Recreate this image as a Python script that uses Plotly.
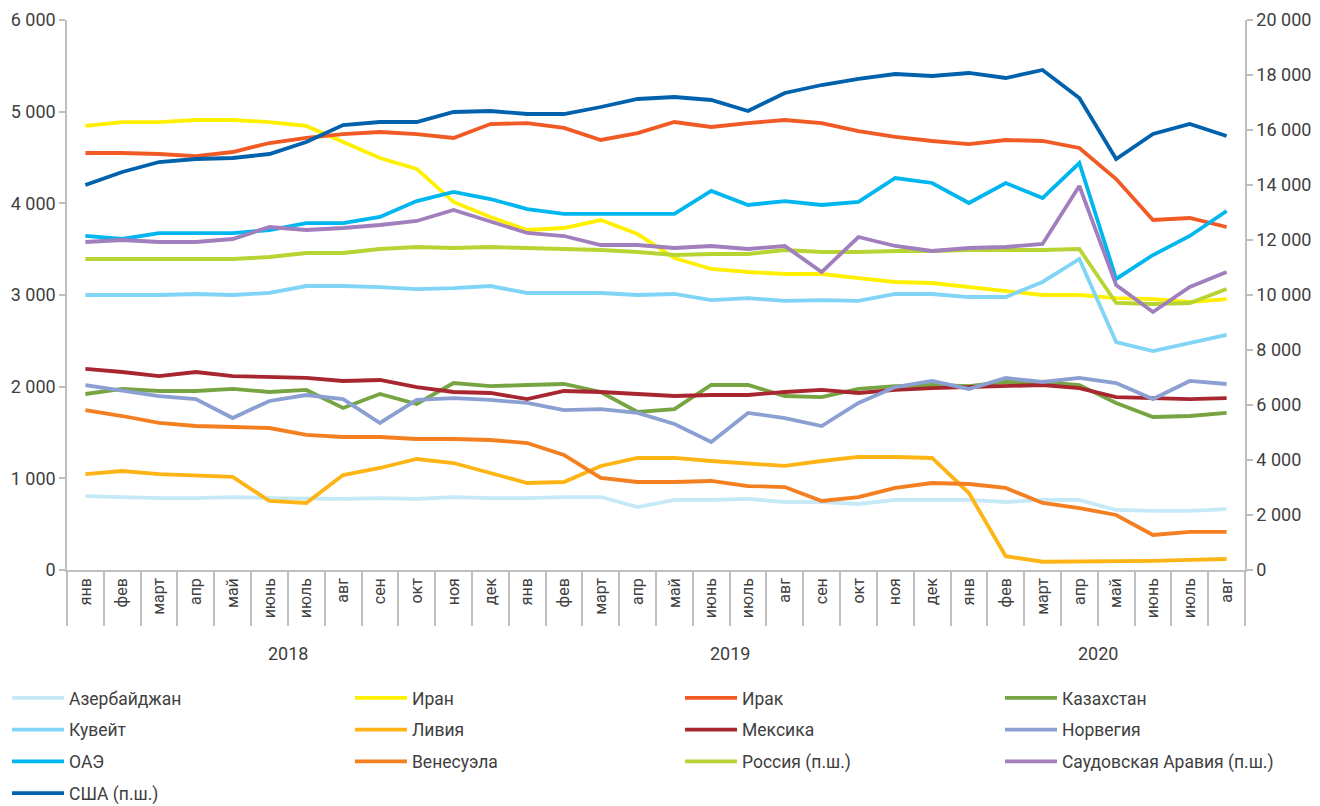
import plotly.graph_objects as go

month_labels = ["янв", "фев", "март", "апр", "май", "июнь", "июль", "авг", "сен", "окт", "ноя", "дек",
                "янв", "фев", "март", "апр", "май", "июнь", "июль", "авг", "сен", "окт", "ноя", "дек",
                "янв", "фев", "март", "апр", "май", "июнь", "июль", "авг"]
years = ["2018", "2019", "2020"]
year_month_counts = [12, 12, 8]

azerbaijan = [807, 796, 785, 785, 796, 785, 775, 775, 785, 775, 796, 785, 785, 796, 796, 687,
              764, 764, 775, 742, 742, 720, 764, 764, 764, 742, 764, 764, 655, 644, 644, 665]
iran = [4844, 4887, 4887, 4909, 4909, 4887, 4844, 4669, 4495, 4375, 4015, 3851, 3709, 3731, 3818, 3665,
        3404, 3284, 3251, 3229, 3229, 3185, 3142, 3131, 3087, 3044, 3000, 3000, 2967, 2956, 2924, 2956]
iraq = [4549, 4549, 4538, 4516, 4560, 4658, 4713, 4756, 4778, 4756, 4713, 4865, 4876, 4822, 4691, 4767,
        4887, 4833, 4876, 4909, 4876, 4789, 4724, 4680, 4647, 4691, 4680, 4604, 4265, 3818, 3840, 3742]
kazakhstan = [1920, 1975, 1953, 1953, 1975, 1942, 1964, 1767, 1920, 1811, 2040, 2007, 2018, 2029, 1942, 1724,
              1756, 2018, 2018, 1898, 1887, 1975, 2007, 2018, 2007, 2051, 2051, 2018, 1822, 1669, 1680, 1713]
kuwait = [3000, 3000, 3000, 3011, 3000, 3022, 3098, 3098, 3087, 3065, 3076, 3098, 3022, 3022, 3022, 3000,
          3011, 2945, 2967, 2935, 2945, 2935, 3011, 3011, 2978, 2978, 3142, 3393, 2487, 2389, 2476, 2564]
libya = [1047, 1080, 1047, 1036, 1015, 753, 731, 1036, 1113, 1211, 1167, 1058, 949, 960, 1135, 1222,
         1222, 1189, 1167, 1135, 1189, 1233, 1233, 1222, 840, 150, 90, 90, 95, 100, 110, 120]
mexico = [2193, 2160, 2116, 2160, 2116, 2105, 2095, 2062, 2073, 1996, 1942, 1931, 1865, 1953, 1942, 1920,
          1898, 1909, 1909, 1942, 1964, 1931, 1964, 1985, 1996, 2007, 2018, 1985, 1887, 1876, 1865, 1876]
norway = [2018, 1953, 1898, 1865, 1658, 1844, 1909, 1865, 1604, 1855, 1876, 1855, 1822, 1745, 1756, 1713,
          1593, 1396, 1713, 1658, 1571, 1822, 1996, 2062, 1975, 2095, 2051, 2095, 2040, 1865, 2062, 2029]
uae = [3644, 3611, 3676, 3676, 3676, 3709, 3785, 3785, 3851, 4025, 4124, 4047, 3938, 3884, 3884, 3884,
       3884, 4135, 3982, 4025, 3982, 4015, 4276, 4222, 4004, 4222, 4058, 4440, 3175, 3436, 3644, 3916]
venezuela = [1745, 1680, 1604, 1571, 1560, 1549, 1473, 1451, 1451, 1429, 1429, 1418, 1385, 1255, 1004, 960,
             960, 971, 916, 905, 753, 796, 895, 949, 938, 895, 731, 676, 600, 382, 415, 415]
russia = [11309, 11309, 11309, 11309, 11309, 11382, 11527, 11527, 11673, 11745, 11709, 11745, 11709, 11673, 11636, 11564,
          11455, 11491, 11491, 11636, 11564, 11564, 11600, 11600, 11636, 11636, 11636, 11673, 9709, 9673, 9709, 10218]
saudi = [11927, 12000, 11927, 11927, 12036, 12473, 12364, 12436, 12545, 12691, 13091, 12655, 12255, 12145, 11818, 11818,
         11709, 11782, 11673, 11782, 10836, 12109, 11782, 11600, 11709, 11745, 11855, 13964, 10364, 9382, 10291, 10836]
usa = [14000, 14473, 14836, 14945, 14982, 15127, 15564, 16182, 16291, 16291, 16655, 16691, 16582, 16582, 16836, 17127,
       17200, 17091, 16691, 17345, 17636, 17855, 18036, 17964, 18073, 17891, 18182, 17164, 14945, 15855, 16218, 15782]

x_idx = list(range(len(month_labels)))
boundaries = [i - 0.5 for i in range(len(month_labels) + 1)]

FONT = "Roboto, sans-serif"
TXT = "#404040"
AX = "#BFBFBF"

# (name, data, color, axis, legend column)
series = [
    ("Азербайджан", azerbaijan, "#C6E9F8", "y", "legend"),
    ("Иран", iran, "#FFF000", "y", "legend2"),
    ("Ирак", iraq, "#F15A24", "y", "legend3"),
    ("Казахстан", kazakhstan, "#77A442", "y", "legend4"),
    ("Кувейт", kuwait, "#80D4F6", "y", "legend"),
    ("Ливия", libya, "#FDB414", "y", "legend2"),
    ("Мексика", mexico, "#A8262F", "y", "legend3"),
    ("Норвегия", norway, "#8C9FD3", "y", "legend4"),
    ("ОАЭ", uae, "#00B6EE", "y", "legend"),
    ("Венесуэла", venezuela, "#F47F20", "y", "legend2"),
    ("Россия (п.ш.)", russia, "#B6D432", "y2", "legend3"),
    ("Саудовская Аравия (п.ш.)", saudi, "#A07FBC", "y2", "legend4"),
    ("США (п.ш.)", usa, "#0061AC", "y2", "legend"),
]

fig = go.Figure()
for name, vals, color, yax, leg in series:
    fig.add_trace(go.Scatter(
        x=x_idx, y=vals, name=name, mode="lines",
        line=dict(color=color, width=3.8),
        yaxis=yax, xaxis="x", legend=leg, legendgroup=name,
        hoverinfo="skip",
    ))

# empty trace to carry the boundary tick axis
fig.add_trace(go.Scatter(x=[], y=[], xaxis="x2", yaxis="y", showlegend=False, hoverinfo="skip"))

# year labels centred under each year's months
start = 0
for yr, cnt in zip(years, year_month_counts):
    center = start + (cnt - 1) / 2
    fig.add_annotation(x=center, xref="x", y=-0.151, yref="paper", text=yr,
                       showarrow=False, font=dict(family=FONT, size=18, color=TXT),
                       xanchor="center", yanchor="middle")
    start += cnt

leg_common = dict(orientation="v", yanchor="top", xanchor="left", y=-0.2,
                  font=dict(family=FONT, size=17.5, color=TXT), bgcolor="rgba(0,0,0,0)",
                  itemwidth=52, tracegroupgap=6, itemclick=False, itemdoubleclick=False)

# the page body adds an 8px offset, so the figure is 8px smaller than the window
fig.update_layout(
    width=1312, height=798,
    margin=dict(l=59, r=75, t=12, b=236, autoexpand=False),
    paper_bgcolor="white", plot_bgcolor="white",
    separators=", ",
    showlegend=True,
    legend=dict(x=-0.0509, **leg_common),
    legend2=dict(x=0.2402, **leg_common),
    legend3=dict(x=0.5204, **leg_common),
    legend4=dict(x=0.7920, **leg_common),
    xaxis=dict(range=[-0.5, len(month_labels) - 0.5], tickmode="array", tickvals=x_idx,
               ticktext=month_labels, tickangle=-90, ticks="", showgrid=False, zeroline=False,
               showline=True, linecolor=AX, linewidth=1.5, automargin=False,
               tickfont=dict(family=FONT, size=16, color=TXT)),
    xaxis2=dict(range=[-0.5, len(month_labels) - 0.5], overlaying="x", anchor="y", side="bottom",
                tickmode="array", tickvals=boundaries, ticks="outside", ticklen=55,
                tickcolor=AX, tickwidth=1.5, showticklabels=False, showgrid=False, zeroline=False,
                showline=False, automargin=False),
    yaxis=dict(range=[0, 6000], dtick=1000, tickformat=",d", showgrid=False, zeroline=False,
               showline=True, linecolor=AX, linewidth=1.5, ticks="outside", ticklen=6,
               tickcolor=AX, tickwidth=1.5, automargin=False,
               tickfont=dict(family=FONT, size=18, color=TXT)),
    yaxis2=dict(range=[0, 20000], dtick=2000, tickformat=",d", overlaying="y", side="right",
                anchor="x", showgrid=False, zeroline=False, showline=True, linecolor=AX, linewidth=1.5,
                ticks="outside", ticklen=6, tickcolor=AX, tickwidth=1.5, automargin=False,
                tickfont=dict(family=FONT, size=18, color=TXT)),
)

fig.write_html("out.html")
